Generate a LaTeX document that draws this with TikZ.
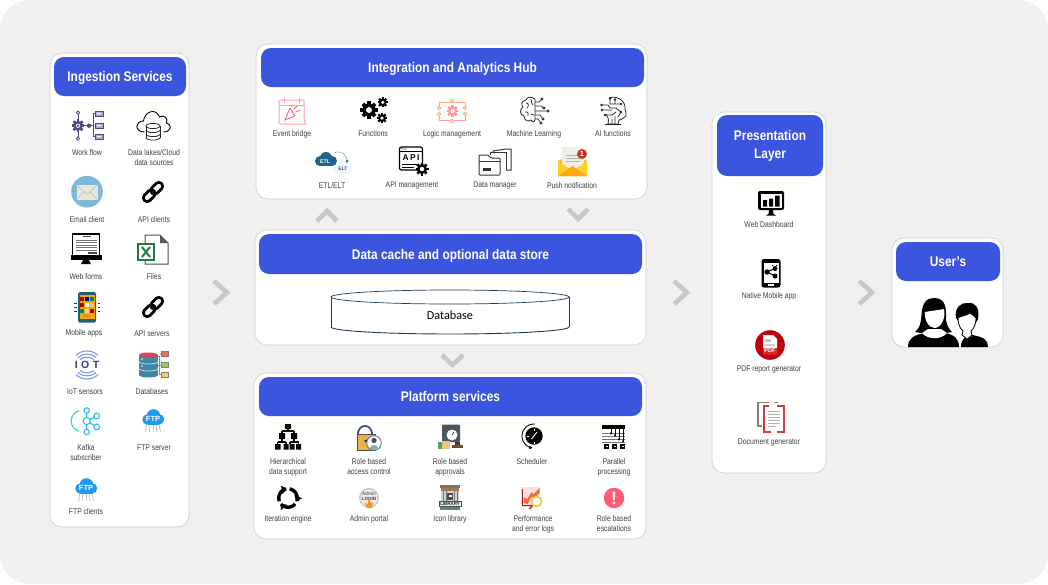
\documentclass[tikz,border=0pt]{standalone}
\usepackage{fontspec}
\setmainfont{Liberation Sans}
\newfontfamily\lblf[FakeStretch=0.82]{Liberation Sans}
\newfontfamily\hdrf[FakeStretch=0.85]{Liberation Sans}
\newfontfamily\calf{Carlito}
\usetikzlibrary{arrows.meta}
\definecolor{bgc}{HTML}{F0F0F0}
\definecolor{hdblue}{HTML}{3B55DE}
\definecolor{txtc}{HTML}{404040}
\definecolor{chevc}{HTML}{C8C8C8}
\definecolor{wfp}{HTML}{4B4A86}
\definecolor{pinkc}{HTML}{FF9DB0}
\definecolor{oranc}{HTML}{F5B080}
\definecolor{ftpb}{HTML}{1E9BEE}
\definecolor{kafc}{HTML}{35C0F0}
\definecolor{dbt}{HTML}{3E86A8}
\definecolor{xlg}{RGB}{30,123,69}
\definecolor{iotarc}{RGB}{130,150,238}
\definecolor{etlb}{RGB}{30,100,140}
\definecolor{lockb}{RGB}{60,75,130}
\definecolor{perfr}{RGB}{150,30,40}
\definecolor{perfm}{RGB}{215,40,50}
\definecolor{perfy}{RGB}{245,195,50}
\definecolor{kafg}{RGB}{45,225,200}
\definecolor{poprc}{RGB}{240,90,110}
\definecolor{lockd}{RGB}{50,60,110}
\definecolor{docg}{RGB}{138,128,112}
\definecolor{docr}{RGB}{200,64,64}
\tikzset{
  x=1pt,y=-1pt,
  panel/.style={rectangle,rounded corners=12pt,fill=white,draw=black!20,line width=.55pt,inner sep=0pt,outer sep=0pt},
  hdr/.style={rectangle,rounded corners=10pt,fill=hdblue,text=white,inner sep=0pt,align=center,font={\hdrf\bfseries\fontsize{14}{18}\selectfont}},
  hdrone/.style={hdr,text height=11.5pt,text depth=1.5pt},
  lab/.style={text=txtc,inner sep=0pt,align=center,font={\lblf\fontsize{8.3}{10}\selectfont}},
  chev/.style={draw=chevc,line width=4.6pt,line join=miter,fill=none},
  ictxt/.style={inner sep=0pt,font={\bfseries\fontsize{#1}{#1}\selectfont}},
}
\newcommand\icAt[2]{\begin{scope}[shift={(#1,#2)}]}
\newcommand\icEnd{\end{scope}}
% elliptical arc, angles measured on screen (clockwise)
\newcommand\EArc[7][]{\draw[#1,domain=#6:#7,samples=28,variable=\t] plot ({#2+#3*cos(\t)},{#4+#5*sin(\t)});}
\newcommand\Gr[4]{%
  \fill[#4] (#1,#2) circle[radius=#3];
  \foreach \a in {0,45,90,135}{\fill[#4,shift={(#1,#2)},rotate=\a] ({-0.28*#3},{-1.3*#3}) rectangle ({0.28*#3},{1.3*#3});}
  \fill[white] (#1,#2) circle[radius={0.45*#3}];}
\newcommand\icLink[2]{\icAt{#1}{#2}\begin{scope}[rotate=45]
  \draw[line width=2.7pt,rounded corners=3.6pt] (-12,-3.8) rectangle (1.5,3.8);
  \draw[line width=2.7pt,rounded corners=3.6pt] (-1.5,-3.8) rectangle (12,3.8);
  \end{scope}\icEnd}
\newcommand\icFtp[3]{\icAt{#1}{#2}
  \foreach \u in {-6,-3,0,3,6}{\draw[black!22,line width=.9pt] (\u,5)--({\u*1.25},14);}
  \fill[ftpb] (-5.5,1.5) circle[radius=5.3] (0.5,-2) circle[radius=6.8] (6,1.3) circle[radius=5.2];
  \fill[ftpb] (-5.5,1) rectangle (6,6.8);
  \node[ictxt=7.5,text=white] (#3) at (0,0.6) {FTP};
  \icEnd}
\begin{document}
\begin{tikzpicture}
\useasboundingbox (0,0) rectangle (1048,584);
\fill[white] (0,0) rectangle (1048,584);
\fill[bgc,rounded corners=30pt] (0,0) rectangle (1048,584);

% ---------- panels
\node[panel,minimum width=139pt,minimum height=474pt] (ing) at (119.5,290) {};
\node[panel,minimum width=391pt,minimum height=155pt] (hub) at (451.5,121.5) {};
\node[panel,minimum width=391pt,minimum height=115pt] (cache) at (450.5,287.5) {};
\node[panel,minimum width=392pt,minimum height=166pt] (plat) at (450,456) {};
\node[panel,minimum width=114pt,minimum height=361pt] (pres) at (769,292.5) {};
\node[panel,minimum width=111pt,minimum height=109pt] (usr) at (947.5,292.5) {};

\node[hdrone,minimum width=132pt,minimum height=39pt] (ingh) at (120,76.5) {Ingestion Services};
\node[hdrone,minimum width=383pt,minimum height=39pt] (hubh) at (452.5,67.5) {Integration and Analytics Hub};
\node[hdrone,minimum width=383pt,minimum height=40pt] (cacheh) at (450.5,254) {Data cache and optional data store};
\node[hdrone,minimum width=383pt,minimum height=39pt] (plath) at (450.5,396.5) {Platform services};
\node[hdr,minimum width=106pt,minimum height=61pt] (presh) at (770,145.5) {Presentation\\Layer};
\node[hdrone,minimum width=104pt,minimum height=39pt] (usrh) at (948,261.5) {User’s};

% ---------- chevrons
\draw[chev] (214,281)--(227,292.5)--(214,304);
\draw[chev] (674,281)--(687,292.5)--(674,304);
\draw[chev] (859,281)--(872,292.5)--(859,304);
\draw[chev] (317,221)--(327,211)--(337,221);
\draw[chev] (568,209)--(578,219)--(588,209);
\draw[chev] (442,355)--(452.5,365)--(463,355);

% ---------- database
\fill[white] (331,297) rectangle (569,327);
\definecolor{dbl}{HTML}{1F3A5A}
\draw[dbl,line width=.7pt] (450,297) ellipse [x radius=119,y radius=7];
\draw[dbl,line width=.7pt] (331,297)--(331,327);
\draw[dbl,line width=.7pt] (569,297)--(569,327);
\EArc[dbl,line width=.9pt]{450}{119}{327}{7}{0}{180}
\node[text=black,inner sep=0pt,font={\calf\fontsize{12.2}{12}\selectfont}] (dbtxt) at (450,315.5) {Database};

% ---------- ingestion labels
\node[lab] (l1) at (87,153) {Work flow};
\node[lab] (l2) at (154,158) {Data lakes/Cloud\\data sources};
\node[lab] (l3) at (87,220) {Email client};
\node[lab] (l4) at (154,220) {API clients};
\node[lab] (l5) at (86,277) {Web forms};
\node[lab] (l6) at (154,277) {Files};
\node[lab] (l7) at (84,333.5) {Mobile apps};
\node[lab] (l8) at (152,333.5) {API servers};
\node[lab] (l9) at (85,392) {IoT sensors};
\node[lab] (l10) at (152,392) {Databases};
\node[lab] (l11) at (86,453) {Kafka\\subscriber};
\node[lab] (l12) at (154,448) {FTP server};
\node[lab] (l13) at (86,512) {FTP clients};

% ---------- hub labels
\node[lab] (h1) at (292,134) {Event bridge};
\node[lab] (h2) at (373,134) {Functions};
\node[lab] (h3) at (452,134) {Logic management};
\node[lab] (h4) at (534,134) {Machine Learning};
\node[lab] (h5) at (613,134) {AI functions};
\node[lab] (h6) at (332,186) {ETL/ELT};
\node[lab] (h7) at (412,186) {API management};
\node[lab] (h8) at (495,186) {Data manager};
\node[lab] (h9) at (572,186) {Push notification};

% ---------- platform labels
\node[lab] (p1) at (288,467) {Hierarchical\\data support};
\node[lab] (p2) at (369,467) {Role based\\access control};
\node[lab] (p3) at (450,467) {Role based\\approvals};
\node[lab] (p4) at (532,462) {Scheduler};
\node[lab] (p5) at (614,467) {Parallel\\processing};
\node[lab] (p6) at (288,519) {Iteration engine};
\node[lab] (p7) at (369,519) {Admin portal};
\node[lab] (p8) at (450,519) {Icon library};
\node[lab] (p9) at (533,524) {Performance\\and error logs};
\node[lab] (p10) at (614,524) {Role based\\escalations};

% ---------- presentation labels
\node[lab] (r1) at (769,225) {Web Dashboard};
\node[lab] (r2) at (769,296) {Native Mobile app};
\node[lab] (r3) at (769,369) {PDF report generator};
\node[lab] (r4) at (769,442) {Document generator};

% ---------- INGESTION ICONS
% work flow
\icAt{87}{125.7}
  \draw[wfp,line width=.8pt] (-9,-13)--(-9,13) (-9,0)--(6,0) (6,-12)--(6,11) (6,-12)--(8,-12) (6,11)--(8,11);
  \Gr{-9}{0}{4.8}{wfp}
  \fill[wfp] (-9,0) circle[radius=1.3];
  \fill[white,draw=wfp,line width=.8pt] (-9,-13) circle[radius=1.7] (-9,13) circle[radius=1.7];
  \fill[wfp] (2,0) circle[radius=2.2];
  \foreach \v in {-12,0,11}{\draw[wfp,fill=wfp!45,line width=.8pt] (8,\v-2.2) rectangle (16,\v+2.2);\draw[white,line width=.6pt] (10,\v)--(14,\v);}
\icEnd
% cloud db
\icAt{153.5}{125}
  \draw[black,line width=.9pt,fill=white] (-9,7) .. controls (-19,7) and (-19,-4) .. (-10,-4) .. controls (-9,-13) and (2,-18) .. (6,-8) .. controls (11,-11) and (15,-6) .. (13,-2) .. controls (19,-1) and (18,7) .. (10,7);
  \fill[white] (-8,-2) rectangle (7,15);
  \draw[black!85,line width=.8pt] (-7.5,1)--(-7.5,12.5) (6.5,1)--(6.5,12.5);
  \draw[black!85,line width=.8pt] (-0.5,1) ellipse[x radius=7,y radius=2.6];
  \EArc[black!85,line width=.8pt]{-0.5}{7}{5}{2.6}{0}{180}
  \EArc[black!85,line width=.8pt]{-0.5}{7}{9}{2.6}{0}{180}
  \EArc[black!85,line width=.8pt]{-0.5}{7}{12.5}{2.6}{0}{180}
\icEnd
% email
\icAt{87}{191.7}
  \fill[fill={rgb,255:red,125;green,183;blue,217}] (0,0) circle[radius=15.8];
  \fill[fill={rgb,255:red,233;green,231;blue,215}] (-10.5,-6.5) rectangle (10.5,8);
  \draw[black!22,line width=.8pt] (-10.5,-6.5)--(0,2.5)--(10.5,-6.5) (-10.5,8)--(-3,0) (10.5,8)--(3,0);
\icEnd
\icLink{153}{192}
% web forms
\icAt{86}{250}
  \draw[black,fill=white,line width=1.5pt] (-13.5,-16)--(13.5,-16)--(13.5,7)--(-13.5,7)--cycle;
  \fill (-15.5,5) rectangle (16,10);
  \fill (-3,10)--(3,10)--(5,14)--(-5,14)--cycle;
  \draw[black!70,line width=.7pt] (-3,-13.5)--(5,-13.5);
  \foreach \v in {-10,-7.5,-5,-2.5,0}{\draw[black!55,line width=.7pt] (-10,\v)--(11,\v);}
  \fill[black!70] (2,1.5) rectangle (11,4);
\icEnd
% excel
\icAt{153}{250}
  \draw[black!70,line width=1pt,fill=white] (-8,-15)--(7,-15)--(15,-7)--(15,14)--(-8,14)--cycle;
  \fill[black!65] (7,-15)--(15,-7)--(7,-7)--cycle;
  \draw[fill=white,draw=xlg,line width=1.3pt] (-15,-6)--(1,-6)--(1,10)--(-15,10)--cycle;
  \draw[xlg,line width=2pt] (-11,-3)--(-3,7) (-3,-3)--(-11,7);
\icEnd
% mobile
\icAt{87}{307}
  \fill[fill={rgb,255:red,28;green,96;blue,122},rounded corners=1.5pt] (-9,-15) rectangle (9,15.5);
  \fill[fill={rgb,255:red,245;green,168;blue,0}] (-7.5,-12) rectangle (7.5,12);
  \foreach \i/\j/\c in {-5/-8/red!70!black,0/-8/blue!60!black,5/-8/teal,-5/-2/red!70!black,0/-2/white,5/-2/orange!50,-5/4/teal,0/4/orange!40,5/4/red!70!black}{\fill[\c] (\i-2,\j-2) rectangle (\i+2,\j+2);}
  \fill[wfp] (-2.5,9) circle[radius=.7] (0,9) circle[radius=.7] (2.5,9) circle[radius=.7];
  \foreach \v in {-4,0,4}{\fill[red!70!black] (-13,\v-.5) rectangle (-10.5,\v+.5);\fill[red!70!black] (10.5,\v-.5) rectangle (13,\v+.5);}
\icEnd
\icLink{153}{307}
% iot
\icAt{87}{364.5}
  \foreach \w/\h/\u in {7/2/-7,9/3/-10,11/4/-13}{
    \draw[iotarc,line width=1.1pt] (-\w,\u+\h) .. controls ({-\w/2},{\u-\h/2}) and ({\w/2},{\u-\h/2}) .. (\w,\u+\h);
    \draw[iotarc,line width=1.1pt] (-\w,{-1*\u-\h+1}) .. controls ({-\w/2},{-1*\u+\h/2+1}) and ({\w/2},{-1*\u+\h/2+1}) .. (\w,{-1*\u-\h+1});}
  \node[ictxt=10.5,text=lockd] (iott) at (0,.3) {I\,\,O\,\,T};
\icEnd
% databases
\icAt{148.5}{365}
  \fill[dbt] (-9.5,-10) rectangle (9.5,10);
  \fill[dbt] (0,10) ellipse[x radius=9.5,y radius=2.5];
  \fill[fill={rgb,255:red,215;green,70;blue,85}] (0,-10) ellipse[x radius=9.5,y radius=2.5];
  \foreach \v in {-3.5,3.5}{\EArc[white!80!dbt,line width=.7pt]{0}{9.5}{\v}{2.5}{0}{180}\fill[white] (-6.5,\v-2.5) circle[radius=.9];}
  \draw[black!45,line width=.6pt] (9.5,-9)--(11,-9)--(11,9)--(12.5,9) (11,-11)--(12.5,-11) (9.5,0)--(12.5,0);
  \fill[fill={rgb,255:red,238;green,110;blue,90},draw=black!50,line width=.4pt] (12.5,-14) rectangle (19.5,-9);
  \fill[fill={rgb,255:red,150;green,200;blue,90},draw=black!50,line width=.4pt] (12.5,-3) rectangle (19.5,2);
  \fill[fill={rgb,255:red,250;green,205;blue,90},draw=black!50,line width=.4pt] (12.5,7) rectangle (19.5,12);
\icEnd
% kafka
\icAt{86.7}{421}
  \EArc[kafg,line width=1.2pt]{-5}{10.5}{0}{10.5}{105}{255}
  \draw[kafc,line width=1.2pt] (0,-10)--(0,10) (0,0)--(10,-5) (0,0)--(10,6);
  \foreach \i/\j/\r in {0/-10.5/2.7,0/11/2.7,10/-5/2.9,10/6/2.9,0/0/3.6}{\draw[kafc,fill=white,line width=1.2pt] (\i,\j) circle[radius=\r];}
\icEnd
\icFtp{153}{418}{ftpa}
\icFtp{86}{487}{ftpc}

% ---------- HUB ICONS
% event bridge
\icAt{292}{111}
  \draw[pinkc,line width=1pt,rounded corners=1pt] (-13,-11)--(12,-11)--(12,8)--(14,13)--(-8,13)--(-13,13)--cycle;
  \draw[pinkc,line width=1pt] (-13,-6)--(12,-6) (-8,-13.5)--(-8,-8.5) (7,-13.5)--(7,-8.5);
  \draw[poprc,line width=.8pt] (-7,9)--(3,5)--(-2,-3)--cycle (2,-2)--(5,-5) (4,1)--(8,-1) (-1,-6)--(0,-4);
\icEnd
% functions
\Gr{369}{110}{6.6}{black}
\Gr{382.7}{102.3}{3.9}{black}
\Gr{382}{118}{3.9}{black}
% logic
\icAt{452}{111}
  \draw[oranc,line width=.8pt] (-13,-5)--(-13,-9)--(13,-9)--(13,-5);
  \draw[pinkc,line width=.8pt] (-13,5)--(-13,9)--(13,9)--(13,5);
  \Gr{0.5}{0}{4.6}{pinkc!90!orange}
  \foreach \i/\j in {0/-10,0/10,-13/-3,-13/3,13/-3,13/3}{\draw[oranc,fill=white,line width=.8pt] (\i,\j) circle[radius=1.8];}
\icEnd
% machine learning
\icAt{534}{111}
  \draw[black!85,line width=.8pt,line cap=round] (1,-12) .. controls (-3,-15) and (-7,-14) .. (-8,-11) .. controls (-13,-10) and (-13,-6) .. (-11,-4) .. controls (-15,-1) and (-14,4) .. (-10,5) .. controls (-10,10) and (-5,11) .. (-3,9) .. controls (-1,12) and (1,11) .. (1,9) -- (1,-12);
  \draw[black!85,line width=.7pt] (-8,-8) .. controls (-5,-8) and (-5,-5) .. (-7,-3) (-9,1) .. controls (-6,0) and (-5,3) .. (-6,5) (-3,-12) .. controls (-2,-9) and (-3,-7) .. (-1,-6) (-3,3)--(0,4);
  \draw[black!85,line width=.7pt] (1,-9)--(5,-9)--(7,-11) (1,-5)--(7,-5)--(9,-3) (1,0)--(13,0) (1,4)--(6,4)--(8,7) (1,8)--(4,8)--(6,11);
  \foreach \i/\j in {8/-12,10/-3,14/0,9/8,7/12}{\draw[black!85,fill=white,line width=.7pt] (\i,\j) circle[radius=1.2];}
\icEnd
% ai functions
\icAt{614}{111}
  \draw[black!85,line width=.8pt] (-5,-13) .. controls (3,-16) and (12,-10) .. (11,-2) .. controls (11,1) and (13,3) .. (12,5) .. controls (9,6) and (9,9) .. (5,9) -- (4,13) -- (-6,13) .. controls (-5,8) and (-6,6) .. (-8,3);
  \draw[black!85,line width=.8pt] (-12,-6)--(-6,-6)--(-4,-3)--(2,-3) (-11,-1)--(-2,-1) (-8,4)--(-2,4)--(2,1) (-4,-12)--(-4,-7)--(1,-7) (1,-11)--(1,-7)--(6,-7) (2,-3)--(7,1)--(4,6) (-2,8)--(-2,13) (1,5)--(1,13);
  \foreach \i/\j in {-12.5/-6,-12/-1,-9/4,-4/-12.5,1/-11.5,7/-7,7/1}{\fill[black!85] (\i,\j) circle[radius=1.3];}
  \draw[black!85,line width=.8pt] (-9,13.5)--(7,13.5);
\icEnd
% etl/elt
\icAt{332}{161}
  \fill[etlb] (-12,0) circle[radius=5] (-6,-3) circle[radius=6] (0,0) circle[radius=5];
  \fill[etlb] (-12,0) rectangle (0,5);
  \node[ictxt=5.3,text=white] (etla) at (-7,0.5) {ETL};
  \fill[fill=blue!4] (6,8) circle[radius=5] (11,6) circle[radius=6] (16,9) circle[radius=4.5];
  \node[ictxt=5,text=etlb] (elta) at (11,7.5) {ELT};
  \EArc[etlb,line width=.7pt,densely dotted,-{Latex[length=3pt,width=3pt]}]{6}{9}{0}{9}{250}{375}
\icEnd
% api
\icAt{411}{159}
  \draw[black,line width=1.2pt,fill=white,rounded corners=2pt] (-11.5,-12)--(11.5,-12)--(11.5,11)--(-11.5,11)--cycle;
  \draw[black,line width=1pt] (-11.5,-8)--(11.5,-8);
  \fill (-9,-10) circle[radius=.6] (-7,-10) circle[radius=.6] (-5,-10) circle[radius=.6];
  \node[ictxt=8.4,text=black] (apit) at (0,-1) {A\,P\,I};
  \draw[black,line width=.7pt] (-9,5)--(6,5) (-9,8)--(3,8);
  \Gr{11}{10}{5}{black}
\icEnd
% data manager
\icAt{495}{162}
  \draw[black!80,line width=1pt,fill=white] (-2,-9)--(-2,-11)--(11,-13)--(16,-13)--(16,8)--(11,8);
  \draw[black!80,line width=1pt,fill=white] (-5,-7)--(-5,-10)--(11,-10)--(11,8);
  \draw[black!80,line width=1pt,fill=white,rounded corners=1pt] (-16,-7)--(-7,-7)--(-4,-4)--(5,-4)--(5,13)--(-16,13)--cycle;
  \draw[black!80,line width=1pt] (-16,-1)--(5,-1);
  \fill[black!80] (-12,6) rectangle (-4,9);
\icEnd
% push
\icAt{572.5}{162}
  \fill[fill={rgb,255:red,250;green,190;blue,30}] (-14.5,-1)--(0,-8)--(14.5,-1)--(14.5,14)--(-14.5,14)--cycle;
  \fill[fill={rgb,255:red,240;green,240;blue,235}] (-11,-15)--(11,-15)--(11,8)--(-11,8)--cycle;
  \draw[black!30,line width=.9pt] (-7,-7)--(7,-7) (-7,-4)--(7,-4) (-7,-1)--(7,-1);
  \fill[fill={rgb,255:red,255;green,205;blue,40}] (-14.5,-1)--(0,9)--(14.5,-1)--(14.5,14)--(-14.5,14)--cycle;
  \fill[fill={rgb,255:red,255;green,170;blue,10}] (-14.5,14)--(0,4)--(14.5,14)--cycle;
  \fill[fill={rgb,255:red,200;green,50;blue,30}] (9.5,-8) circle[radius=5];
  \node[ictxt=7.5,text=white] (pushn) at (9.5,-7.8) {1};
\icEnd

% ---------- PLATFORM ICONS
% hierarchy
\icAt{288}{437}
  \draw[black,line width=1.1pt] (0,-9)--(0,-6) (-6,-6)--(6,-6) (-6,-6)--(-6,-2) (6,-6)--(6,-2) (-6,2)--(-6,5) (6,2)--(6,5) (-10.5,5)--(-2,5) (2,5)--(10.5,5) (-10.5,5)--(-10.5,7) (-2,5)--(-2,7) (2,5)--(2,7) (10.5,5)--(10.5,7);
  \fill (-3,-13) rectangle (3,-8);
  \fill (-9,-4) rectangle (-3,2) (3,-4) rectangle (9,2);
  \fill (-13,7) rectangle (-7.5,12.5) (-4.5,7) rectangle (.5,12.5) (1.5,7) rectangle (6.5,12.5) (8,7) rectangle (13,12.5);
\icEnd
% lock
\icAt{369}{437}
  \EArc[lockb,line width=1.7pt]{-4}{7}{-3}{8}{180}{360}
  \fill[fill={rgb,255:red,235;green,178;blue,70},draw=black!70,line width=.5pt] (-12,-3) rectangle (6,13);
  \fill[lockd] (-5,3)--(-3,6)--(1,1)--(-3,3)--cycle;
  \draw[black!60,fill=white,line width=.8pt] (5,6) circle[radius=7.3];
  \fill[fill={rgb,255:red,120;green,190;blue,150}] (5,13) .. controls (0,13) and (0,8) .. (5,8) .. controls (10,8) and (10,13) .. (5,13);
  \fill[black!70] (5,3.5) circle[radius=2.6];
\icEnd
% approvals
\icAt{450}{437}
  \fill[fill={rgb,255:red,75;green,85;blue,95},rounded corners=1pt] (-8,-12.5) rectangle (10,5);
  \fill[white] (2,-2) circle[radius=5.5];
  \draw[black!80,line width=.8pt] (2,-2)--(4,-5);
  \fill[fill={rgb,255:red,90;green,160;blue,80}] (-12,5) rectangle (-8,12);
  \fill[fill={rgb,255:red,235;green,195;blue,130}] (-8,4) rectangle (0,12);
  \fill[fill={rgb,255:red,120;green,70;blue,40}] (2,8) rectangle (13,10.5);
  \fill[fill={rgb,255:red,90;green,55;blue,30}] (5,5) rectangle (10,8);
\icEnd
% scheduler
\icAt{534}{436}
  \fill (0,0) circle[radius=8.7];
  \EArc[black,line width=.9pt,-{Latex[length=3.6pt,width=3.6pt]}]{0}{12}{0}{12}{275}{95}
  \draw[white,line width=.9pt] (-2.5,3)--(3,-4);
  \draw[white,line width=.8pt] (0,-7.5)--(0,-5.5) (-7,0)--(-5,0) (0,7.5)--(0,5.5);
\icEnd
% parallel
\icAt{614}{437}
  \draw[black!55,line width=.6pt] (-12,-4)--(11,-4) (-12,-1)--(11,-1) (-12,2)--(11,2) (-12,5)--(11,5);
  \fill (-12,-12) rectangle (11,-8.5);
  \foreach \u/\e in {-3/-2,1/0,5/4,9/6}{\draw[black,line width=.9pt,-{Latex[length=2.5pt,width=2.5pt]}] (\u,-8.5)--(\u,\e);}
  \foreach \u in {-10,-2,6}{\fill (\u,7) rectangle (\u+5,11.5);\fill[white] (\u+1.5,8.5) rectangle (\u+3.5,10);}
\icEnd
% iteration
\icAt{288}{498}
  \foreach \s in {-80,40,160}{\EArc[black,line width=3.4pt,-{Triangle[length=5pt,width=8pt]}]{0}{9.2}{0}{9.2}{\s}{\s+102}}
\icEnd
% admin
\icAt{369}{498}
  \fill[black!22] (0,0) circle[radius=10];
  \fill[black!8] (0,0) circle[radius=8.6];
  \node[ictxt=4.6,text=black!75,font={\fontsize{4.8}{4.8}\selectfont}] (adm1) at (0,-4) {Admin};
  \node[ictxt=4.6,text=black!75] (adm2) at (0,0.5) {LOGIN};
  \fill[fill={rgb,255:red,240;green,150;blue,40}] (-1,1)--(1,1)--(1,4)--(4,5)--(3,10)--(-2,10)--(-4,5)--(-1,6)--cycle;
\icEnd
% library
\icAt{450}{498}
  \fill[fill={rgb,255:red,110;green,120;blue,110}] (-10,-13) rectangle (10,-10);
  \fill[fill={rgb,255:red,170;green,120;blue,80}] (-9,-10) rectangle (9,-7);
  \fill[fill={rgb,255:red,200;green,215;blue,210}] (-9,-7) rectangle (9,5);
  \foreach \u in {-7.5,-4.5,3.5,6.5}{\fill[black!55] (\u,-7) rectangle (\u+1.2,5);}
  \fill[black!70] (-3,-5) rectangle (3,2);
  \fill[white] (-1.5,-3.5) rectangle (1.5,-1);
  \draw[black!70,fill=white!92!black,line width=.6pt] (-11,3.5) rectangle (11,8.5);
  \node[ictxt=4.4,text=black!85] (libt) at (0,6) {LIBRARY};
  \fill[fill={rgb,255:red,80;green,140;blue,120}] (-10,8.5) rectangle (10,12);
\icEnd
% performance
\icAt{530.5}{497}
  \fill[fill={rgb,255:red,252;green,225;blue,225}] (-9.5,-10) rectangle (9.5,10);
  \draw[perfr,line width=1pt] (-8,-8)--(-8,8)--(8,8);
  \fill[fill={rgb,255:red,240;green,110;blue,50}] (-7,6)--(-7,0)--(-3,2)--(1,-5)--(3,-3)--(9,-9)--(9,-4)--(4,1)--(1,0)--(-3,7)--cycle;
  \draw[perfm,line width=1.8pt] (2,8)--(-1,12);
  \draw[perfy,fill=white,line width=1.5pt] (6,4.5) circle[radius=5];
\icEnd
% escalation
\fill[fill={rgb,255:red,255;green,90;blue,112}] (614,498) circle[radius=10.2];
\fill[white] (612.6,491.5)--(615.4,491.5)--(614.9,500)--(613.1,500)--cycle;
\fill[white] (614,503) circle[radius=1.6];

% ---------- PRESENTATION ICONS
\icAt{771}{203}
  \fill[rounded corners=2pt] (-13,-12) rectangle (13,7);
  \fill[white] (-10.5,-9.5) rectangle (10.5,5);
  \fill (-8,-3) rectangle (-4,3.5) (-2,-4.5) rectangle (2,3.5) (4,-7.5) rectangle (8.5,3.5);
  \fill (-2,7)--(2,7)--(2.5,11)--(5,12.5)--(-5,12.5)--(-2.5,11)--cycle;
\icEnd
\icAt{771}{273}
  \fill[rounded corners=2.5pt] (-9.5,-14) rectangle (9.5,14.5);
  \fill[white] (-7.5,-10) rectangle (7.5,9.5);
  \fill[white] (-3,11.3) rectangle (3,12.7);
  \draw[black,line width=1pt] (4,-4.5)--(-4,-1)--(4,3);
  \fill (4,-4.5) circle[radius=2.5] (-4,-1) circle[radius=2.7] (4,3) circle[radius=2.5];
  \fill (1,-8) rectangle (2,-7) (5,-8) rectangle (6,-7);
\icEnd
\icAt{770}{345}
  \fill[fill={rgb,255:red,190;green,0;blue,15}] (0,0) circle[radius=14.8];
  \fill[white] (-7,-10) -- (3,-10) -- (7,-6) -- (7,9) -- (-7,9) -- cycle;
  \fill[black!22] (-5,-6.5) rectangle (1,-3.5);
  \fill[black!18] (-5,-1.5) rectangle (5,1);
  \fill[fill={rgb,255:red,225;green,40;blue,40}] (-7,2.5) rectangle (7,9);
  \node[ictxt=5.6,text=white] (pdft) at (0,5.8) {PDF};
\icEnd
\icAt{771}{417}
  \draw[docg,line width=1.5pt] (-2,-14.5)--(-13,-14.5)--(-13,9)--(-9,9) (3,-14.5)--(7,-14.5);
  \fill[white] (-6,-9) rectangle (12,15);
  \draw[black!30,line width=.6pt] (-3,-6)--(9,-6) (-3,-3)--(9,-3) (-3,0)--(9,0) (-3,3)--(9,3) (-3,6)--(9,6) (-3,9)--(5,9);
  \draw[docr,line width=1.5pt] (-2,-11)--(-7,-11)--(-7,15)--(0,15) (6,-11)--(13,-11)--(13,15)--(6,15);
\icEnd

% ---------- USERS
\begin{scope}
  % man
  \fill (961,347) .. controls (961,338) and (966,336) .. (972,335) .. controls (984,337) and (988,340) .. (988,347) -- cycle;
  \fill (956,318) .. controls (954,308) and (961,302) .. (968,303) .. controls (976,302) and (980,309) .. (978,319) .. controls (976,327) and (960,327) .. (956,318) -- cycle;
  \draw[black,fill=white,line width=.8pt] (958,318) .. controls (960,316) and (966,316) .. (970,313) .. controls (972,315) and (975,316) .. (976,318) .. controls (976,327) and (971,333) .. (967,333) .. controls (963,333) and (958,327) .. (958,318) -- cycle;
  \fill[white] (963,331) -- (971,331) -- (972,336) -- (967,339) -- (962,336) -- cycle;
  \draw[black,line width=.8pt] (963,331) -- (962,335) -- (967,339) -- (972,335) -- (971,331);
  % woman
  \fill[white] (905,347) rectangle (961,332);
  \fill (908,347) .. controls (908,338) and (914,335) .. (925,333) -- (945,333) .. controls (955,335) and (959,339) .. (959,347) -- cycle;
  \fill (934,298) .. controls (921,298) and (922,312) .. (921,320) .. controls (920,327) and (918,329) .. (915,332) .. controls (923,334) and (945,334) .. (952,332) .. controls (949,329) and (947,326) .. (946,320) .. controls (946,310) and (947,298) .. (934,298) -- cycle;
  \fill[white] (925,312) .. controls (930,311) and (939,310) .. (944,309) .. controls (946,318) and (941,328) .. (934.5,328) .. controls (929,328) and (924,320) .. (925,312) -- cycle;
  \fill[white] (922,333) .. controls (928,340) and (941,340) .. (947,333) -- (941,329) -- (928,329) -- cycle;
\end{scope}
\end{tikzpicture}
\end{document}
